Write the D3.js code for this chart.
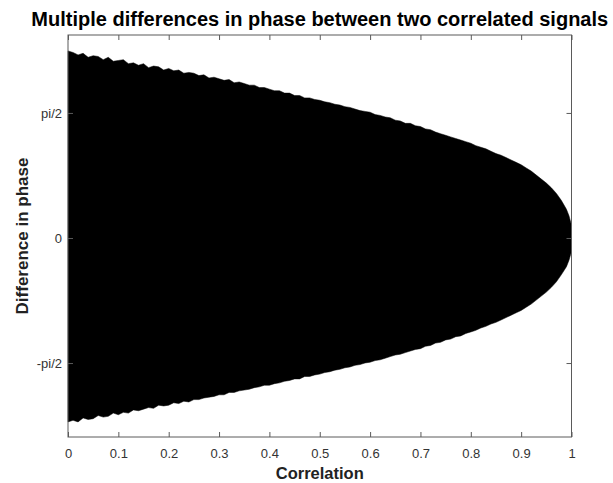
<!DOCTYPE html>
<html>
<head>
<meta charset="utf-8">
<script src="https://cdn.jsdelivr.net/npm/d3@7"></script>
<style>
  html, body { margin: 0; padding: 0; background: #fff; }
  svg { display: block; }
  text { font-family: Arial, "Liberation Sans", Helvetica, sans-serif; }
</style>
</head>
<body>
<svg id="chart" width="613" height="483"></svg>
<script>
// Correlation values at which the spread of phase differences was sampled
const correlation = [
  0.00, 0.01, 0.02, 0.03, 0.04, 0.05, 0.06, 0.07, 0.08, 0.09,
  0.10, 0.11, 0.12, 0.13, 0.14, 0.15, 0.16, 0.17, 0.18, 0.19,
  0.20, 0.21, 0.22, 0.23, 0.24, 0.25, 0.26, 0.27, 0.28, 0.29,
  0.30, 0.31, 0.32, 0.33, 0.34, 0.35, 0.36, 0.37, 0.38, 0.39,
  0.40, 0.41, 0.42, 0.43, 0.44, 0.45, 0.46, 0.47, 0.48, 0.49,
  0.50, 0.51, 0.52, 0.53, 0.54, 0.55, 0.56, 0.57, 0.58, 0.59,
  0.60, 0.61, 0.62, 0.63, 0.64, 0.65, 0.66, 0.67, 0.68, 0.69,
  0.70, 0.71, 0.72, 0.73, 0.74, 0.75, 0.76, 0.77, 0.78, 0.79,
  0.80, 0.81, 0.82, 0.83, 0.84, 0.85, 0.86, 0.87, 0.88, 0.89,
  0.90, 0.91, 0.92, 0.93, 0.94, 0.95, 0.96, 0.97, 0.98, 0.99,
  0.995, 1.00
];

// Largest phase difference (radians) reached at each correlation
const phaseMax = [
  2.35, 2.33, 2.30, 2.32, 2.27, 2.29, 2.28, 2.24, 2.27, 2.22,
  2.23, 2.24, 2.19, 2.20, 2.17, 2.19, 2.14, 2.16, 2.15, 2.11,
  2.13, 2.10, 2.11, 2.07, 2.08, 2.07, 2.04, 2.05, 2.01, 2.02,
  2.00, 1.98, 1.99, 1.95, 1.96, 1.94, 1.92, 1.92, 1.89, 1.89,
  1.87, 1.85, 1.85, 1.82, 1.82, 1.79, 1.79, 1.76, 1.76, 1.74,
  1.73, 1.71, 1.70, 1.68, 1.67, 1.65, 1.64, 1.62, 1.60, 1.59,
  1.58, 1.55, 1.54, 1.52, 1.51, 1.48, 1.47, 1.44, 1.44, 1.41,
  1.40, 1.37, 1.36, 1.33, 1.31, 1.29, 1.27, 1.25, 1.23, 1.21,
  1.19, 1.16, 1.14, 1.12, 1.09, 1.06, 1.04, 1.01, 0.98, 0.95,
  0.92, 0.88, 0.84, 0.79, 0.74, 0.69, 0.63, 0.56, 0.47, 0.36,
  0.28, 0.16
];

// Smallest phase difference (radians) reached at each correlation
const phaseMin = [
  -2.31, -2.29, -2.31, -2.26, -2.28, -2.27, -2.23, -2.25, -2.24, -2.20,
  -2.22, -2.19, -2.20, -2.16, -2.17, -2.15, -2.13, -2.14, -2.10, -2.11,
  -2.10, -2.07, -2.08, -2.05, -2.06, -2.03, -2.03, -2.01, -2.00, -1.99,
  -1.97, -1.97, -1.94, -1.94, -1.92, -1.91, -1.90, -1.88, -1.87, -1.85,
  -1.85, -1.83, -1.82, -1.80, -1.79, -1.77, -1.77, -1.74, -1.74, -1.72,
  -1.71, -1.69, -1.68, -1.66, -1.65, -1.63, -1.62, -1.60, -1.59, -1.57,
  -1.56, -1.54, -1.53, -1.51, -1.49, -1.47, -1.46, -1.44, -1.42, -1.40,
  -1.39, -1.36, -1.35, -1.32, -1.31, -1.28, -1.27, -1.24, -1.23, -1.20,
  -1.18, -1.16, -1.13, -1.11, -1.08, -1.06, -1.03, -1.00, -0.97, -0.94,
  -0.91, -0.87, -0.83, -0.78, -0.73, -0.68, -0.62, -0.55, -0.46, -0.36,
  -0.28, -0.17
];

// Axis ticks
const xTicks = [0, 0.1, 0.2, 0.3, 0.4, 0.5, 0.6, 0.7, 0.8, 0.9, 1];
const yTicks = [-Math.PI / 2, 0, Math.PI / 2];
const yTickLabels = ["-pi/2", "0", "pi/2"];

const svg = d3.select("#chart");
const plotLeft = 68, plotRight = 571.5, plotTop = 35, plotBottom = 437;

const x = d3.scaleLinear().domain([0, 1]).range([plotLeft, plotRight]);
const y = d3.scaleLinear().domain([-2.5, 2.55]).range([plotBottom, plotTop]);

const rows = correlation.map((c, i) => ({ c, hi: phaseMax[i], lo: phaseMin[i] }));

// Filled band covering every phase difference observed
const area = d3.area()
  .x(d => x(d.c))
  .y0(d => y(d.lo))
  .y1(d => y(d.hi))
  .curve(d3.curveLinear);

svg.append("path")
  .datum(rows)
  .attr("d", area)
  .attr("fill", "#000")
  .attr("stroke", "#000")
  .attr("stroke-width", 0.5);

// Axes: ticks pointing inward on all four sides (box style)
const axisColor = "#5a5a5a";
const tickLen = 5;
const fmtX = d => d === 0 ? "0" : d === 1 ? "1" : d3.format(".1f")(d);

const gx = svg.append("g").attr("transform", `translate(0,${plotBottom})`)
  .call(d3.axisBottom(x).tickValues(xTicks).tickFormat(fmtX)
    .tickSizeInner(-tickLen).tickSizeOuter(0).tickPadding(12));
const gxTop = svg.append("g").attr("transform", `translate(0,${plotTop})`)
  .call(d3.axisTop(x).tickValues(xTicks).tickFormat("")
    .tickSizeInner(-tickLen).tickSizeOuter(0));
const gy = svg.append("g").attr("transform", `translate(${plotLeft},0)`)
  .call(d3.axisLeft(y).tickValues(yTicks).tickFormat((d, i) => yTickLabels[i])
    .tickSizeInner(-tickLen).tickSizeOuter(0).tickPadding(6));
const gyRight = svg.append("g").attr("transform", `translate(${plotRight},0)`)
  .call(d3.axisRight(y).tickValues(yTicks).tickFormat("")
    .tickSizeInner(-tickLen).tickSizeOuter(0));

[gx, gxTop, gy, gyRight].forEach(g => {
  g.select(".domain").remove();
  g.selectAll(".tick line").attr("stroke", axisColor).attr("stroke-width", 1);
  g.selectAll("text").attr("fill", "#333").attr("font-size", 13)
    .style("font-family", 'Arial, "Liberation Sans", Helvetica, sans-serif');
});

// Box outline
svg.append("rect")
  .attr("x", plotLeft).attr("y", plotTop)
  .attr("width", plotRight - plotLeft).attr("height", plotBottom - plotTop)
  .attr("fill", "none").attr("stroke", axisColor).attr("stroke-width", 1);

// Title and axis labels
svg.append("text")
  .attr("x", (plotLeft + plotRight) / 2).attr("y", 26)
  .attr("text-anchor", "middle")
  .attr("font-size", 20).attr("font-weight", "bold").attr("fill", "#000")
  .text("Multiple differences in phase between two correlated signals");

svg.append("text")
  .attr("x", (plotLeft + plotRight) / 2).attr("y", 479)
  .attr("text-anchor", "middle")
  .attr("font-size", 16.5).attr("font-weight", "bold").attr("fill", "#222")
  .text("Correlation");

svg.append("text")
  .attr("transform", `translate(28,${(plotTop + plotBottom) / 2}) rotate(-90)`)
  .attr("text-anchor", "middle")
  .attr("font-size", 17).attr("font-weight", "bold").attr("fill", "#222")
  .text("Difference in phase");
</script>
</body>
</html>
